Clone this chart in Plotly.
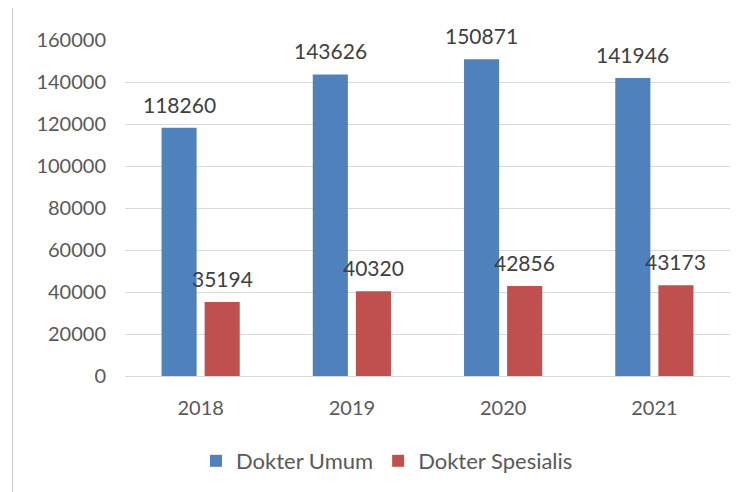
import plotly.graph_objects as go

years = ["2018", "2019", "2020", "2021"]
dokter_umum = [118260, 143626, 150871, 141946]
dokter_spesialis = [35194, 40320, 42856, 43173]
y_ticks = [0, 20000, 40000, 60000, 80000, 100000, 120000, 140000, 160000]

FONT = "Lato"
BLUE = "#4f81bd"
RED = "#c0504d"

fig = go.Figure()
fig.add_trace(go.Bar(name="Dokter Umum", x=years, y=dokter_umum,
                     marker=dict(color=BLUE, line=dict(width=0))))
fig.add_trace(go.Bar(name="Dokter Spesialis", x=years, y=dokter_spesialis,
                     marker=dict(color=RED, line=dict(width=0))))

# data labels, centred over each bar of the group (x given as category index)
for series, shift in ((dokter_umum, -21.5), (dokter_spesialis, 21.5)):
    for i, v in enumerate(series):
        fig.add_annotation(x=i, y=v, xref="x", yref="y", text=str(v),
                           showarrow=False, xanchor="center", yanchor="bottom",
                           xshift=shift, yshift=9,
                           font=dict(family=FONT, size=21, color="#404040"))

fig.update_layout(
    width=743, height=492,
    margin=dict(l=117, r=21, t=32, b=124),
    paper_bgcolor="white", plot_bgcolor="white",
    barmode="group", bargap=0.43, bargroupgap=0.186,
    font=dict(family=FONT, size=20, color="#595959"),
    showlegend=True,
    legend=dict(orientation="h", x=0.433, xanchor="center", y=-0.253, yanchor="middle",
                font=dict(family=FONT, size=22, color="#595959"),
                itemwidth=30, traceorder="normal"),
    xaxis=dict(type="category", categoryorder="array", categoryarray=years,
               range=[-0.5, len(years) - 0.5],
               showgrid=False, showline=True, linecolor="#d9d9d9", linewidth=1,
               ticks="", ticklabelstandoff=14, tickfont=dict(size=20, color="#595959")),
    yaxis=dict(range=[0, 160000], tickvals=y_ticks, ticktext=[str(v) for v in y_ticks],
               showgrid=True, gridcolor="#d9d9d9", gridwidth=1, zeroline=False,
               showline=False, ticks="", ticklabelstandoff=18,
               tickfont=dict(size=20, color="#595959")),
)
fig.add_shape(type="line", xref="paper", yref="paper", x0=-0.186, x1=-0.186, y0=-0.37, y1=1.1,
              line=dict(color="#d0d0d0", width=1))

fig.write_html("out.html")
